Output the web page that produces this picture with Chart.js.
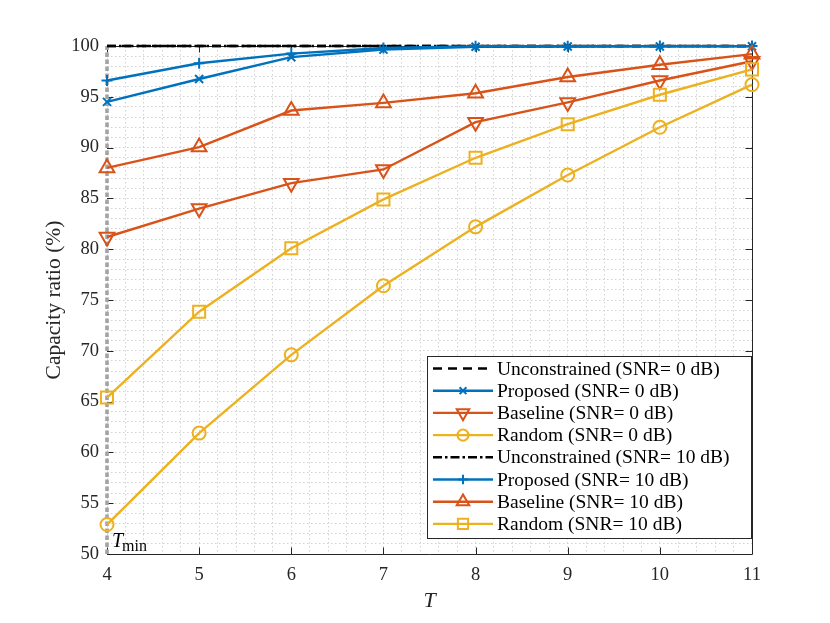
<!DOCTYPE html>
<html>
<head>
<meta charset="utf-8">
<script src="https://cdn.jsdelivr.net/npm/chart.js@4/dist/chart.umd.min.js"></script>
<style>
  html, body { margin: 0; padding: 0; background: #fff; }
  #wrap { width: 830px; height: 623px; }
</style>
</head>
<body>
<div id="wrap"><canvas id="chart" width="830" height="623"></canvas></div>
<script>
/* ================= DATA ================= */

const T = [4, 5, 6, 7, 8, 9, 10, 11];
const tMin = 4;

const unconstrained0 = [100, 100, 100, 100, 100, 100, 100, 100];
const proposed0 = [94.5, 96.75, 98.9, 99.65, 99.93, 99.95, 99.96, 99.97];
const baseline0 = [81.2, 84.0, 86.5, 87.85, 92.5, 94.45, 96.6, 98.5];
const random0 = [52.9, 61.9, 69.6, 76.4, 82.2, 87.3, 92.0, 96.2];

const unconstrained10 = [100, 100, 100, 100, 100, 100, 100, 100];
const proposed10 = [96.6, 98.3, 99.25, 99.8, 99.97, 99.98, 99.99, 99.99];
const baseline10 = [88.0, 90.05, 93.65, 94.4, 95.35, 96.95, 98.15, 99.2];
const random10 = [65.4, 73.85, 80.1, 84.9, 89.0, 92.3, 95.2, 97.7];

const seriesLabels = [
  "Unconstrained (SNR= 0 dB)",
  "Proposed (SNR= 0 dB)",
  "Baseline (SNR= 0 dB)",
  "Random (SNR= 0 dB)",
  "Unconstrained (SNR= 10 dB)",
  "Proposed (SNR= 10 dB)",
  "Baseline (SNR= 10 dB)",
  "Random (SNR= 10 dB)"
];

const xRange = [4, 11];
const yRange = [50, 100];

/* ================= STYLES ================= */

const BLUE = "#0072BD";
const ORANGE = "#D95319";
const YELLOW = "#EDB120";
const BLACK = "#000000";
const AXIS = "#262626";
const FONT = "'Liberation Serif', 'DejaVu Serif', serif";

function pts(ys) {
  return T.map((t, i) => ({ x: t, y: ys[i] }));
}

function series(label, ys, color, style, radius, rotation, dash) {
  return {
    label: label,
    data: pts(ys),
    borderColor: color,
    backgroundColor: "rgba(0,0,0,0)",
    borderWidth: 2.4,
    borderDash: dash || [],
    pointStyle: style,
    pointRadius: style ? radius : 0,
    pointHoverRadius: style ? radius : 0,
    pointRotation: rotation || 0,
    pointBorderColor: color,
    pointBackgroundColor: "rgba(0,0,0,0)",
    pointBorderWidth: 2,
    tension: 0,
    clip: 12
  };
}

const datasets = [
  series(seriesLabels[0], unconstrained0, BLACK, false, 0, 0, [9, 6]),
  series(seriesLabels[1], proposed0, BLUE, "crossRot", 5.7, 0),
  series(seriesLabels[2], baseline0, ORANGE, "triangle", 8.5, 180),
  series(seriesLabels[3], random0, YELLOW, "circle", 6.5, 0),
  series(seriesLabels[4], unconstrained10, BLACK, false, 0, 0, [9, 3, 2.5, 3]),
  series(seriesLabels[5], proposed10, BLUE, "cross", 5.5, 0),
  series(seriesLabels[6], baseline10, ORANGE, "triangle", 8.5, 0),
  series(seriesLabels[7], random10, YELLOW, "rect", 8.5, 0)
];

// MATLAB draws later lines on top
datasets.forEach((d, i) => { d.order = datasets.length - i + 1; });

// T_min marker line
datasets.push({
  label: "Tmin",
  data: [{ x: tMin, y: yRange[0] }, { x: tMin, y: yRange[1] }],
  borderColor: "#a3a3a3",
  borderWidth: 3.6,
  borderDash: [4.5, 2.5],
  pointRadius: 0,
  pointHoverRadius: 0,
  order: 20,
  clip: 4
});

/* ================= PLUGINS ================= */

const isInt = v => Math.abs(v - Math.round(v)) < 1e-6;

const frame = {
  id: "frame",
  beforeDatasetsDraw(chart) {
    const { ctx, chartArea: a, scales } = chart;
    ctx.save();
    ctx.strokeStyle = AXIS;
    ctx.lineWidth = 1;
    // box (left edge is covered by the T_min line)
    ctx.beginPath();
    ctx.moveTo(a.left, a.top + 0.5); ctx.lineTo(a.right + 0.5, a.top + 0.5);
    ctx.lineTo(a.right + 0.5, a.bottom + 0.5); ctx.lineTo(a.left, a.bottom + 0.5);
    ctx.stroke();

    // inward major ticks on all sides
    const len = 6.5;
    ctx.beginPath();
    for (let t = xRange[0]; t <= xRange[1]; t++) {
      const px = Math.round(scales.x.getPixelForValue(t)) + 0.5;
      ctx.moveTo(px, a.bottom); ctx.lineTo(px, a.bottom - len);
      ctx.moveTo(px, a.top); ctx.lineTo(px, a.top + len);
    }
    for (let v = yRange[0]; v <= yRange[1]; v += 5) {
      const py = Math.round(scales.y.getPixelForValue(v)) + 0.5;
      ctx.moveTo(a.left, py); ctx.lineTo(a.left + len, py);
      ctx.moveTo(a.right, py); ctx.lineTo(a.right - len, py);
    }
    ctx.stroke();
    ctx.restore();
  },
  afterDatasetsDraw(chart) {
    const { ctx, chartArea: a, scales } = chart;
    // T_min label
    ctx.save();
    const x0 = scales.x.getPixelForValue(tMin) + 5;
    ctx.fillStyle = BLACK;
    ctx.textBaseline = "alphabetic";
    ctx.font = "italic 20px " + FONT;
    ctx.fillText("T", x0, a.bottom - 7);
    const w = ctx.measureText("T").width;
    ctx.font = "16px " + FONT;
    ctx.fillText("min", x0 + w - 1, a.bottom - 3);
    ctx.restore();
  }
};

const boxLegend = {
  id: "boxLegend",
  afterDraw(chart) {
    const { ctx } = chart;
    const box = { left: 427, top: 356, width: 324, height: 182 };
    const rowH = 22.2;
    ctx.save();
    ctx.fillStyle = "#ffffff";
    ctx.fillRect(box.left, box.top, box.width, box.height);
    ctx.strokeStyle = AXIS;
    ctx.lineWidth = 1;
    ctx.strokeRect(box.left + 0.5, box.top + 0.5, box.width, box.height);

    ctx.font = "19.5px " + FONT;
    ctx.textBaseline = "middle";
    for (let i = 0; i < seriesLabels.length; i++) {
      const d = chart.data.datasets[i];
      const y = box.top + 12.5 + rowH * i;
      const x1 = box.left + 6, x2 = box.left + 66;
      ctx.strokeStyle = d.borderColor;
      ctx.lineWidth = d.borderWidth;
      ctx.setLineDash(d.borderDash);
      ctx.beginPath();
      ctx.moveTo(x1, y); ctx.lineTo(x2, y);
      ctx.stroke();
      ctx.setLineDash([]);
      if (d.pointStyle) {
        ctx.fillStyle = "rgba(0,0,0,0)";
        ctx.strokeStyle = d.pointBorderColor;
        ctx.lineWidth = d.pointBorderWidth;
        Chart.helpers.drawPoint(ctx, {
          pointStyle: d.pointStyle,
          radius: d.pointRadius * 0.85,
          rotation: d.pointRotation,
          borderWidth: d.pointBorderWidth
        }, (x1 + x2) / 2, y);
      }
      ctx.fillStyle = BLACK;
      ctx.fillText(seriesLabels[i], box.left + 70, y + 1);
    }
    ctx.restore();
  }
};

/* ================= CHART ================= */

new Chart(document.getElementById("chart").getContext("2d"), {
  type: "line",
  data: { datasets: datasets },
  options: {
    responsive: false,
    animation: false,
    events: [],
    layout: { padding: { left: 0, top: 46, right: 78, bottom: 0 } },
    plugins: {
      legend: { display: false },
      tooltip: { enabled: false }
    },
    scales: {
      x: {
        type: "linear",
        min: xRange[0],
        max: xRange[1],
        afterFit: s => { s.height = 69; },
        ticks: {
          stepSize: 0.2,
          autoSkip: false,
          maxRotation: 0,
          padding: 10,
          color: AXIS,
          font: { family: FONT, size: 18.5 },
          callback: v => (isInt(v) ? String(Math.round(v)) : "")
        },
        grid: { color: "#d2d2d2", lineWidth: 1, drawTicks: false },
        border: { display: false, dash: [1.5, 2.5] },
        title: {
          display: true,
          text: "T",
          color: AXIS,
          font: { family: FONT, size: 22, style: "italic" },
          padding: { top: 0, bottom: 9 }
        }
      },
      y: {
        type: "linear",
        min: yRange[0],
        max: yRange[1],
        afterFit: s => { s.width = 107; },
        ticks: {
          stepSize: 1,
          autoSkip: false,
          padding: 8,
          color: AXIS,
          font: { family: FONT, size: 18.5 },
          callback: v => (isInt(v) && Math.round(v) % 5 === 0 ? String(Math.round(v)) : "")
        },
        grid: { color: "#d2d2d2", lineWidth: 1, drawTicks: false },
        border: { display: false, dash: [1.5, 2.5] },
        title: {
          display: true,
          text: "Capacity ratio (%)",
          color: AXIS,
          font: { family: FONT, size: 21.5 },
          padding: { top: 41, bottom: 0 }
        }
      }
    }
  },
  plugins: [frame, boxLegend]
});
</script>
</body>
</html>
